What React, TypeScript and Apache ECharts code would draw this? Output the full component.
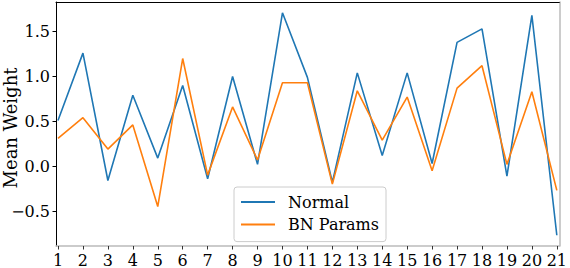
import React, { useEffect, useRef } from "react";
import * as echarts from "echarts";

const layers: number[] = [1, 2, 3, 4, 5, 6, 7, 8, 9, 10, 11, 12, 13, 14, 15, 16, 17, 18, 19, 20, 21];
const normalValues: number[] = [0.51, 1.26, -0.16, 0.79, 0.09, 0.9, -0.14, 1.0, 0.02, 1.71, 0.99, -0.18, 1.04, 0.12, 1.04, 0.03, 1.38, 1.53, -0.11, 1.68, -0.77];
const bnValues: number[] = [0.31, 0.54, 0.19, 0.46, -0.45, 1.2, -0.1, 0.66, 0.07, 0.93, 0.93, -0.2, 0.84, 0.29, 0.77, -0.05, 0.87, 1.12, 0.02, 0.83, -0.27];
const yTicks: number[] = [-0.5, 0, 0.5, 1.0, 1.5];
const seriesNames: string[] = ["Normal", "BN Params"];

const FONT = "DejaVu Serif";

function fmtY(v: number): string {
  const s = Math.abs(v).toFixed(1);
  return v < 0 ? "\u2212" + s : s;
}

export default function App() {
  const ref = useRef<HTMLDivElement>(null);
  useEffect(() => {
    if (!ref.current) return;
    const chart = echarts.init(ref.current, undefined, { renderer: "svg" });
    chart.setOption({
      animation: false,
      backgroundColor: "#fff",
      textStyle: { fontFamily: FONT },
      grid: { left: 56, right: 3, top: 2, bottom: 19 },
      legend: {
        data: seriesNames,
        orient: "vertical",
        left: 234,
        top: 187,
        padding: [7, 7, 9, 7],
        icon: "rect",
        itemWidth: 34,
        itemHeight: 2,
        itemGap: 6.6,
        borderColor: "#cccccc",
        borderWidth: 1,
        borderRadius: 3,
        backgroundColor: "rgba(255,255,255,0.8)",
        textStyle: { fontFamily: FONT, fontSize: 16, lineHeight: 16, color: "#000", padding: [0, 0, 0, 8] },
      },
      xAxis: [
        {
          type: "value",
          min: 0.92,
          max: 21.1,
          position: "bottom",
          axisLine: { show: true, onZero: false, lineStyle: { color: "#bbbbbb", width: 1.5 } },
          axisTick: { show: true, length: 3.5, lineStyle: { color: "#333" }, customValues: layers },
          axisLabel: {
            customValues: layers,
            fontFamily: FONT,
            fontSize: 16,
            color: "#000",
            margin: 6,
            formatter: (v: number) => String(v),
          },
          splitLine: { show: false },
        },
        {
          type: "value",
          min: 0.92,
          max: 21.1,
          position: "top",
          axisLine: { show: true, onZero: false, lineStyle: { color: "#000", width: 1 } },
          axisTick: { show: false },
          axisLabel: { show: false },
          splitLine: { show: false },
        },
      ],
      yAxis: [
        {
          type: "value",
          min: -0.89,
          max: 1.83,
          position: "left",
          axisLine: { show: true, onZero: false, lineStyle: { color: "#000", width: 1 } },
          axisTick: { show: true, length: 3.5, lineStyle: { color: "#000" }, customValues: yTicks },
          axisLabel: {
            customValues: yTicks,
            fontFamily: FONT,
            fontSize: 16,
            color: "#000",
            margin: 6,
            formatter: (v: number) => fmtY(v),
          },
          splitLine: { show: false },
        },
        {
          type: "value",
          min: -0.89,
          max: 1.83,
          position: "right",
          axisLine: { show: true, onZero: false, lineStyle: { color: "#bbbbbb", width: 1.5 } },
          axisTick: { show: false },
          axisLabel: { show: false },
          splitLine: { show: false },
        },
      ],
      graphic: [
        {
          type: "text",
          x: 10,
          y: 128,
          rotation: Math.PI / 2,
          style: {
            text: "Mean Weight",
            fontFamily: FONT,
            fontSize: 18,
            fill: "#000",
            align: "center",
            verticalAlign: "middle",
          },
        },
      ],
      series: [
        {
          name: seriesNames[0],
          type: "line",
          xAxisIndex: 0,
          yAxisIndex: 0,
          data: layers.map((x, i) => [x, normalValues[i]]),
          showSymbol: false,
          symbol: "none",
          lineStyle: { color: "#1f77b4", width: 1.6 },
          itemStyle: { color: "#1f77b4" },
        },
        {
          name: seriesNames[1],
          type: "line",
          xAxisIndex: 0,
          yAxisIndex: 0,
          data: layers.map((x, i) => [x, bnValues[i]]),
          showSymbol: false,
          symbol: "none",
          lineStyle: { color: "#ff7f0e", width: 1.6 },
          itemStyle: { color: "#ff7f0e" },
        },
      ],
    });
    return () => chart.dispose();
  }, []);
  return (
    <div
      ref={ref}
      style={{ position: "absolute", left: 0, top: 0, width: 570, height: 268 }}
    />
  );
}
